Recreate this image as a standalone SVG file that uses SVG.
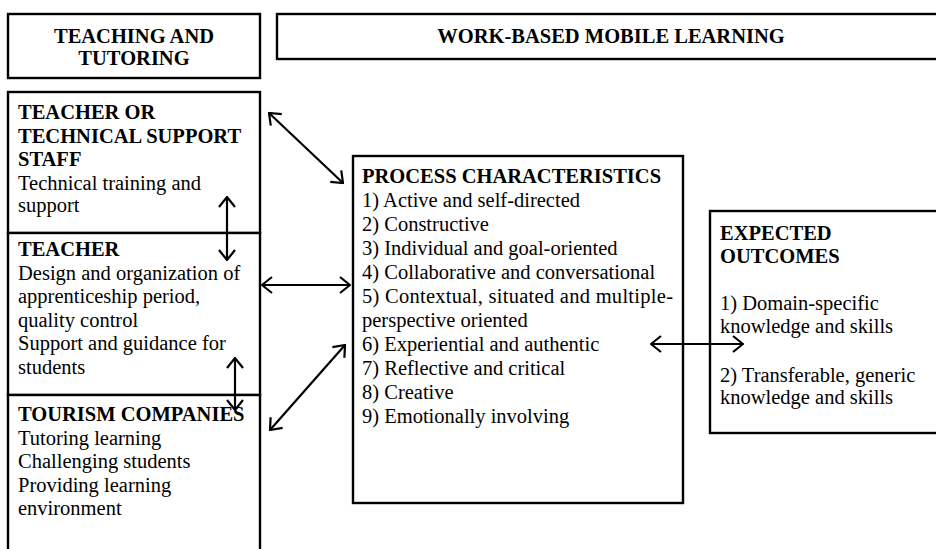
<svg xmlns="http://www.w3.org/2000/svg" width="936" height="549" viewBox="0 0 936 549">
<defs>
<style>
.box{fill:#fff;stroke:#000;stroke-width:2.4}
.t{font-family:"Liberation Serif","Times New Roman",serif;font-size:20.5px;fill:#000}
.b{font-weight:bold}
.c{text-anchor:middle}
.conn{stroke:#000;stroke-width:2.2;fill:none;marker-start:url(#ah);marker-end:url(#ah)}
</style>
<marker id="ah" viewBox="0 0 12 18" refX="11" refY="9" markerWidth="12" markerHeight="18" markerUnits="userSpaceOnUse" orient="auto-start-reverse">
<path d="M1,1 L11,9 L1,17" fill="none" stroke="#000" stroke-width="2.2"/>
</marker>
</defs>
<rect width="936" height="549" fill="#fff"/>

<g id="teaching-tutoring">
<rect class="box" x="8" y="14" width="252" height="64"/>
<text class="t b c" x="134" y="43">TEACHING AND</text>
<text class="t b c" x="134" y="65">TUTORING</text>
</g>

<g id="work-based">
<rect class="box" x="277" y="14" width="680" height="45"/>
<text class="t b c" x="611" y="43">WORK-BASED MOBILE LEARNING</text>
</g>

<g id="teacher-or-technical">
<rect class="box" x="8" y="92" width="252" height="141"/>
<text class="t b" x="18" y="119">TEACHER OR</text>
<text class="t b" x="18" y="142.5">TECHNICAL SUPPORT</text>
<text class="t b" x="18" y="166">STAFF</text>
<text class="t" x="18" y="189.5">Technical training and</text>
<text class="t" x="18" y="212">support</text>
</g>

<g id="teacher">
<rect class="box" x="8" y="233" width="252" height="162"/>
<text class="t b" x="18" y="256">TEACHER</text>
<text class="t" x="18" y="279.5">Design and organization of</text>
<text class="t" x="18" y="303">apprenticeship period,</text>
<text class="t" x="18" y="326.5">quality control</text>
<text class="t" x="18" y="350">Support and guidance for</text>
<text class="t" x="18" y="373.5">students</text>
</g>

<g id="tourism-companies">
<rect class="box" x="8" y="395" width="252" height="170"/>
<text class="t b" x="18" y="421">TOURISM COMPANIES</text>
<text class="t" x="18" y="444.5">Tutoring learning</text>
<text class="t" x="18" y="468">Challenging students</text>
<text class="t" x="18" y="491.5">Providing learning</text>
<text class="t" x="18" y="515">environment</text>
</g>

<g id="process-characteristics">
<rect class="box" x="353" y="156" width="330" height="347"/>
<text class="t b" x="362" y="183">PROCESS CHARACTERISTICS</text>
<text class="t" x="362" y="207">1) Active and self-directed</text>
<text class="t" x="362" y="231">2) Constructive</text>
<text class="t" x="362" y="255">3) Individual and goal-oriented</text>
<text class="t" x="362" y="279">4) Collaborative and conversational</text>
<text class="t" x="362" y="303" textLength="311" lengthAdjust="spacing">5) Contextual, situated and multiple-</text>
<text class="t" x="362" y="327">perspective oriented</text>
<text class="t" x="362" y="351">6) Experiential and authentic</text>
<text class="t" x="362" y="375">7) Reflective and critical</text>
<text class="t" x="362" y="399">8) Creative</text>
<text class="t" x="362" y="423">9) Emotionally involving</text>
</g>

<g id="expected-outcomes">
<rect class="box" x="710" y="211" width="250" height="222"/>
<text class="t b" x="720" y="240">EXPECTED</text>
<text class="t b" x="720" y="263">OUTCOMES</text>
<text class="t" x="720" y="310">1) Domain-specific</text>
<text class="t" x="720" y="333">knowledge and skills</text>
<text class="t" x="720" y="382">2) Transferable, generic</text>
<text class="t" x="720" y="404">knowledge and skills</text>
</g>

<g id="connectors">
<line class="conn" x1="269" y1="113" x2="343" y2="183"/>
<line class="conn" x1="227" y1="197" x2="227" y2="260"/>
<line class="conn" x1="262" y1="285" x2="350" y2="285"/>
<line class="conn" x1="235" y1="358" x2="235" y2="410"/>
<line class="conn" x1="270" y1="430" x2="345" y2="345"/>
<line class="conn" x1="651" y1="344" x2="743" y2="344"/>
</g>
</svg>
